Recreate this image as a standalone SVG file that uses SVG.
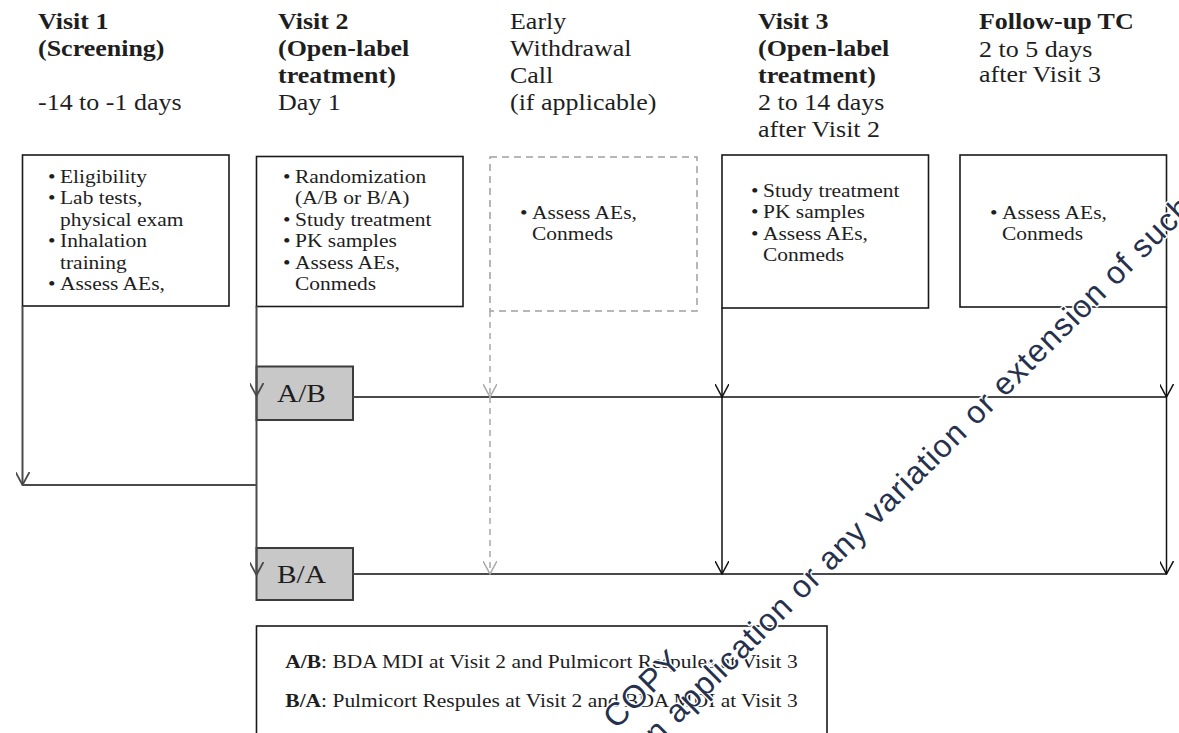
<svg xmlns="http://www.w3.org/2000/svg" width="1179" height="733" viewBox="0 0 1179 733">
<defs>
<style>
.t{font-family:"Liberation Serif","Times New Roman",serif;fill:#1e1e1e;}
.h{font-size:23px;}
.b{font-weight:bold;}
.s{font-size:19px;}
.box{fill:#fff;stroke:#1a1a1a;stroke-width:1.6;}
.dbox{fill:#fff;stroke:#a0a0a0;stroke-width:1.5;stroke-dasharray:7 5;}
.arm{fill:#c8c8c8;stroke:#3c3c3c;stroke-width:2;}
.cg{fill:none;stroke:#4a4a4a;stroke-width:2;}
.ck{fill:none;stroke:#111;stroke-width:1.5;}
.cd{fill:none;stroke:#a8a8a8;stroke-width:1.5;stroke-dasharray:6 5;}
.wm{font-family:"Liberation Sans",Arial,sans-serif;font-size:32px;letter-spacing:1.1px;fill:#26314d;stroke:#fff;stroke-width:3;paint-order:stroke;stroke-linejoin:round;}
</style>
<marker id="ag" viewBox="0 0 14 14" refX="13" refY="7" markerWidth="14" markerHeight="14" markerUnits="userSpaceOnUse" orient="auto"><path d="M0,0 L13,7 L0,14" fill="none" stroke="#4a4a4a" stroke-width="1.8"/></marker>
<marker id="ak" viewBox="0 0 14 14" refX="13" refY="7" markerWidth="14" markerHeight="14" markerUnits="userSpaceOnUse" orient="auto"><path d="M0,0 L13,7 L0,14" fill="none" stroke="#111" stroke-width="1.5"/></marker>
<marker id="al" viewBox="0 0 14 14" refX="13" refY="7" markerWidth="14" markerHeight="14" markerUnits="userSpaceOnUse" orient="auto"><path d="M0,0 L13,7 L0,14" fill="none" stroke="#a8a8a8" stroke-width="1.5"/></marker>
</defs>
<rect width="1179" height="733" fill="#fff"/>

<g id="visit1">
<text class="t h" transform="scale(1.13 1)"><tspan class="b" x="33.63" y="29">Visit 1</tspan><tspan class="b" x="33.63" y="56">(Screening)</tspan><tspan x="33.63" y="110">-14 to -1 days</tspan></text>
<rect class="box" x="22.5" y="155" width="206.5" height="151"/>
<text class="t s" transform="scale(1.13 1)"><tspan x="42.48" y="183">•</tspan><tspan x="53.10" y="183">Eligibility</tspan><tspan x="42.48" y="204.5">•</tspan><tspan x="53.10" y="204.5">Lab tests,</tspan><tspan x="53.10" y="226">physical exam</tspan><tspan x="42.48" y="247.5">•</tspan><tspan x="53.10" y="247.5">Inhalation</tspan><tspan x="53.10" y="269">training</tspan><tspan x="42.48" y="290.5">•</tspan><tspan x="53.10" y="290.5">Assess AEs,</tspan></text>
</g>

<g id="visit2">
<text class="t h" transform="scale(1.13 1)"><tspan class="b" x="246.02" y="29">Visit 2</tspan><tspan class="b" x="246.02" y="56">(Open-label</tspan><tspan class="b" x="246.02" y="83">treatment)</tspan><tspan x="246.02" y="110">Day 1</tspan></text>
<rect class="box" x="256.5" y="156.5" width="206.5" height="150"/>
<text class="t s" transform="scale(1.13 1)"><tspan x="250.44" y="183">•</tspan><tspan x="261.06" y="183">Randomization</tspan><tspan x="261.06" y="204.5">(A/B or B/A)</tspan><tspan x="250.44" y="226">•</tspan><tspan x="261.06" y="226">Study treatment</tspan><tspan x="250.44" y="247.5">•</tspan><tspan x="261.06" y="247.5">PK samples</tspan><tspan x="250.44" y="269">•</tspan><tspan x="261.06" y="269">Assess AEs,</tspan><tspan x="261.06" y="290.5">Conmeds</tspan></text>
</g>

<g id="early-withdrawal">
<text class="t h" transform="scale(1.13 1)"><tspan x="451.33" y="29">Early</tspan><tspan x="451.33" y="56">Withdrawal</tspan><tspan x="451.33" y="83">Call</tspan><tspan x="451.33" y="110">(if applicable)</tspan></text>
<rect class="dbox" x="490" y="157" width="207" height="154"/>
<text class="t s" transform="scale(1.13 1)"><tspan x="460.18" y="219">•</tspan><tspan x="470.80" y="219">Assess AEs,</tspan><tspan x="470.80" y="240.5">Conmeds</tspan></text>
</g>

<g id="visit3">
<text class="t h" transform="scale(1.13 1)"><tspan class="b" x="670.80" y="29">Visit 3</tspan><tspan class="b" x="670.80" y="56">(Open-label</tspan><tspan class="b" x="670.80" y="83">treatment)</tspan><tspan x="670.80" y="110">2 to 14 days</tspan><tspan x="670.80" y="137">after  Visit 2</tspan></text>
<rect class="box" x="722" y="155" width="206.5" height="153"/>
<text class="t s" transform="scale(1.13 1)"><tspan x="664.60" y="197">•</tspan><tspan x="675.22" y="197">Study treatment</tspan><tspan x="664.60" y="218.5">•</tspan><tspan x="675.22" y="218.5">PK samples</tspan><tspan x="664.60" y="240">•</tspan><tspan x="675.22" y="240">Assess AEs,</tspan><tspan x="675.22" y="261.5">Conmeds</tspan></text>
</g>

<g id="follow-up">
<text class="t h" transform="scale(1.13 1)"><tspan class="b" x="866.37" y="29">Follow-up TC</tspan><tspan x="866.37" y="57">2 to 5 days</tspan><tspan x="866.37" y="82">after  Visit 3</tspan></text>
<rect class="box" x="960" y="155" width="206.5" height="152"/>
<text class="t s" transform="scale(1.13 1)"><tspan x="876.11" y="219">•</tspan><tspan x="886.73" y="219">Assess AEs,</tspan><tspan x="886.73" y="240.5">Conmeds</tspan></text>
</g>

<g id="arm-ab">
<rect class="arm" x="256.5" y="366.5" width="96.5" height="53.5"/>
<text class="t" font-size="26" transform="scale(1.13 1)" x="245.13" y="402">A/B</text>
</g>

<g id="arm-ba">
<rect class="arm" x="256.5" y="548" width="96.5" height="52"/>
<text class="t" font-size="26" transform="scale(1.13 1)" x="245.13" y="583">B/A</text>
</g>

<g id="legend">
<rect class="box" x="256.5" y="626" width="570.5" height="125"/>
<text class="t s" transform="scale(1.13 1)" x="479.2" y="668" text-anchor="middle"><tspan class="b">A/B</tspan>: BDA MDI at Visit 2 and Pulmicort Respules at Visit 3</text>
<text class="t s" transform="scale(1.13 1)" x="479.2" y="707" text-anchor="middle"><tspan class="b">B/A</tspan>: Pulmicort Respules at Visit 2 and BDA MDI at Visit 3</text>
</g>

<g id="connectors">
<path class="cg" d="M22.5,306 V485" marker-end="url(#ag)"/>
<path class="cg" d="M22.5,485 H256.5"/>
<path class="cg" d="M256.5,306 V396" marker-end="url(#ag)"/>
<path class="cg" d="M256.5,396 V575" marker-end="url(#ag)"/>
<path class="cg" d="M353,397 H1166.5"/>
<path class="cg" d="M353,574 H1166.5"/>
<path class="cd" d="M490,311 V397" marker-end="url(#al)"/>
<path class="cd" d="M490,397 V574" marker-end="url(#al)"/>
<path class="ck" d="M722,308 V397" marker-end="url(#ak)"/>
<path class="ck" d="M722,397 V574" marker-end="url(#ak)"/>
<path class="ck" d="M1166.5,307 V397" marker-end="url(#ak)"/>
<path class="ck" d="M1166.5,397 V574" marker-end="url(#ak)"/>
</g>

<g id="watermark" transform="rotate(-45)">
<text class="wm" x="-33" y="952" text-anchor="middle">COPY</text>
<text class="wm" x="-62" y="992">n application or any variation or extension of such</text>
</g>
</svg>
